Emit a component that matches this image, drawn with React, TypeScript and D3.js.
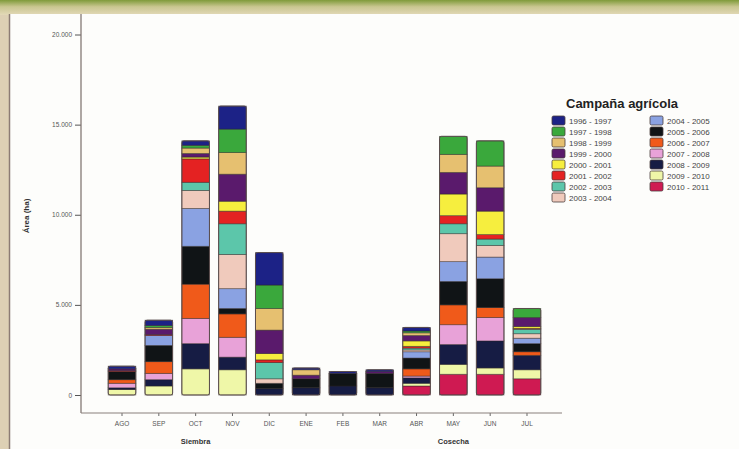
import * as React from 'react';
import * as d3 from 'd3';

const MONTHS = ['AGO', 'SEP', 'OCT', 'NOV', 'DIC', 'ENE', 'FEB', 'MAR', 'ABR', 'MAY', 'JUN', 'JUL'];

const SEASONS = [
    '1996-1997', '1997-1998', '1998-1999', '1999-2000', '2000-2001', '2001-2002', '2002-2003', '2003-2004',
    '2004-2005', '2005-2006', '2006-2007', '2007-2008', '2008-2009', '2009-2010', '2010-2011'
];

const COLORS = [
    '#1c2286', '#3aa83c', '#e6c070', '#5a1a6c', '#f6ee3e', '#e42222', '#5cc6aa', '#f0cabc',
    '#8aa2e2', '#101416', '#f05a1a', '#e8a2d8', '#161c44', '#eff7a8', '#cf1a52'
];

// hectares per month, one array per season (AGO .. JUL)
const S9697 = [150, 300, 250, 1280, 1800, 100, 100, 100, 200, 0, 0, 0];
const S9798 = [0, 100, 150, 1300, 1300, 0, 0, 0, 100, 1000, 1400, 500];
const S9899 = [0, 100, 300, 1200, 1200, 300, 0, 0, 150, 1000, 1200, 0];
const S9900 = [100, 300, 200, 1500, 1300, 200, 0, 100, 300, 1200, 1300, 500];
const S0001 = [0, 0, 100, 550, 350, 0, 0, 0, 300, 1200, 1300, 100];
const S0102 = [50, 50, 1300, 700, 150, 0, 0, 0, 100, 450, 250, 50];
const S0203 = [0, 0, 450, 1700, 900, 0, 0, 0, 100, 550, 350, 250];
const S0304 = [0, 0, 1000, 1900, 250, 0, 0, 0, 100, 1550, 650, 250];
const S0405 = [0, 550, 2100, 1100, 0, 0, 0, 0, 350, 1100, 1200, 300];
const S0506 = [450, 900, 2100, 300, 300, 500, 700, 800, 600, 1300, 1600, 450];
const S0607 = [200, 650, 1900, 1300, 0, 0, 0, 0, 400, 1100, 550, 200];
const S0708 = [250, 350, 1400, 1100, 0, 0, 0, 0, 100, 1100, 1300, 0];
const S0809 = [100, 350, 1400, 700, 350, 400, 500, 400, 300, 1100, 1500, 800];
const S0910 = [300, 500, 1450, 1400, 0, 0, 0, 0, 150, 550, 350, 500];
const S1011 = [0, 0, 0, 0, 0, 0, 0, 0, 500, 1150, 1150, 900];

const VALUES = [S9697, S9798, S9899, S9900, S0001, S0102, S0203, S0304, S0405, S0506, S0607, S0708, S0809, S0910, S1011];

const Y_TICKS = [0, 5000, 10000, 15000, 20000];
const GROUPS = [
    { label: 'Siembra', month: 'OCT' },
    { label: 'Cosecha', month: 'MAY' }
];

const FONT = '"Liberation Sans", Arial, sans-serif';

export default function App() {
    const svgRef = React.useRef<SVGSVGElement>(null);

    React.useEffect(() => {
        const svg = d3.select(svgRef.current);
        svg.selectAll('*').remove();
        const width = 739;
        const height = 449;

        /** ******** Background (photo frame) ********* */
        const defs = svg.append('defs');
        const grad = defs.append('linearGradient').attr('id', 'topGrad').attr('x1', 0).attr('y1', 0).attr('x2', 0).attr('y2', 1);
        grad.append('stop').attr('offset', '0%').attr('stop-color', '#7f9a3a');
        grad.append('stop').attr('offset', '45%').attr('stop-color', '#c9c690');
        grad.append('stop').attr('offset', '100%').attr('stop-color', '#e3d9b8');
        svg.append('rect').attr('width', width).attr('height', height).attr('fill', '#ddd0b4');
        svg.append('rect').attr('width', width).attr('height', 15).attr('fill', 'url(#topGrad)');
        svg.append('rect').attr('x', 10).attr('y', 14).attr('width', width - 10).attr('height', height - 14).attr('fill', '#fdfdfb');
        svg.append('line').attr('x1', 9.5).attr('x2', 9.5).attr('y1', 14).attr('y2', height)
            .attr('stroke', '#8c7c74').attr('stroke-width', 1.5);

        /** ******** Scales ********* */
        const x = d3.scaleBand<string>().domain(MONTHS).range([103.6, 545.4]).paddingInner(0.25).paddingOuter(0.125);
        const y = d3.scaleLinear().domain([0, 20000]).range([395, 34.5]);
        const es = d3.formatLocale({ decimal: ',', thousands: '.', grouping: [3], currency: ['', '€'] });
        const fmt = es.format(',');

        /** ******** Axes ********* */
        const g = svg.append('g');
        const yAxis = d3.axisLeft(y).tickValues(Y_TICKS).tickFormat((d) => fmt(d as number)).tickSize(6).tickPadding(3);
        const yAxisDom = g.append('g').attr('transform', 'translate(81,0)').call(yAxis);
        yAxisDom.select('.domain').remove();
        yAxisDom.selectAll('text').attr('font-size', 6.5).attr('font-family', FONT).attr('fill', '#555');
        yAxisDom.selectAll('line').attr('stroke', '#555');
        g.append('line').attr('x1', 81).attr('x2', 81).attr('y1', 14).attr('y2', 413).attr('stroke', '#7a6e6a').attr('stroke-width', 1.2);

        const xAxis = d3.axisBottom(x).tickSize(3).tickPadding(5);
        const xAxisDom = g.append('g').attr('transform', 'translate(0,413)').call(xAxis);
        xAxisDom.select('.domain').remove();
        xAxisDom.selectAll('text').attr('font-size', 6.5).attr('font-family', FONT).attr('fill', '#555');
        xAxisDom.selectAll('line').attr('stroke', '#666');
        g.append('line').attr('x1', 81).attr('x2', 562).attr('y1', 413).attr('y2', 413).attr('stroke', '#8a807c').attr('stroke-width', 1.1);

        g.selectAll('text.group')
            .data(GROUPS)
            .enter()
            .append('text')
            .attr('class', 'group')
            .attr('x', (d) => (x(d.month) as number) + x.bandwidth() / 2)
            .attr('y', 444)
            .attr('text-anchor', 'middle')
            .attr('font-size', 7.5)
            .attr('font-weight', 'bold')
            .attr('font-family', FONT)
            .attr('fill', '#333')
            .text((d) => d.label);

        g.append('text')
            .attr('transform', 'translate(29,216) rotate(-90)')
            .attr('text-anchor', 'middle')
            .attr('font-size', 8)
            .attr('font-weight', 'bold')
            .attr('font-family', FONT)
            .attr('fill', '#333')
            .text('Área (ha)');

        /** ******** Stacked bars ********* */
        const rows = MONTHS.map((m, i) => {
            const row: Record<string, number | string> = { month: m };
            SEASONS.forEach((s, j) => { row[s] = VALUES[j][i]; });
            return row;
        });
        const keys = SEASONS.slice().reverse();
        const stack = d3.stack<Record<string, number | string>>().keys(keys);
        const series = stack(rows);
        const color = d3.scaleOrdinal<string, string>().domain(SEASONS).range(COLORS);

        const bars = svg.append('g');
        bars.selectAll('g')
            .data(series)
            .enter()
            .append('g')
            .attr('fill', (d) => color(d.key))
            .selectAll('rect')
            .data((d) => d.filter((p) => p[1] - p[0] > 0))
            .enter()
            .append('rect')
            .attr('x', (d) => x(d.data.month as string) as number)
            .attr('width', x.bandwidth())
            .attr('y', (d) => y(d[1]))
            .attr('height', (d) => y(d[0]) - y(d[1]))
            .attr('stroke', '#2a2222')
            .attr('stroke-opacity', 0.55)
            .attr('stroke-width', 0.8);

        const totals = rows.map((r) => ({ month: r.month as string, total: d3.sum(SEASONS, (s) => r[s] as number) }));
        bars.selectAll('rect.outline')
            .data(totals)
            .enter()
            .append('rect')
            .attr('class', 'outline')
            .attr('x', (d) => x(d.month) as number)
            .attr('width', x.bandwidth())
            .attr('y', (d) => y(d.total))
            .attr('height', (d) => y(0) - y(d.total))
            .attr('rx', 2)
            .attr('fill', 'none')
            .attr('stroke', '#5a4c4c')
            .attr('stroke-width', 1);

        /** ******** Legend ********* */
        const legend = svg.append('g');
        legend.append('text')
            .attr('x', 566)
            .attr('y', 108)
            .attr('font-size', 13)
            .attr('font-weight', 'bold')
            .attr('font-family', FONT)
            .attr('fill', '#222')
            .text('Campaña agrícola');
        const items = legend.selectAll('g.item')
            .data(SEASONS)
            .enter()
            .append('g')
            .attr('class', 'item')
            .attr('transform', (d, i) => {
                const col = i < 8 ? 0 : 1;
                const row = i < 8 ? i : i - 8;
                return `translate(${552 + col * 98},${116 + row * 11})`;
            });
        items.append('rect')
            .attr('width', 13)
            .attr('height', 9)
            .attr('rx', 1.5)
            .attr('fill', (d) => color(d))
            .attr('stroke', '#4a3e3e')
            .attr('stroke-width', 0.8);
        items.append('text')
            .attr('x', 17)
            .attr('y', 7.5)
            .attr('font-size', 8)
            .attr('font-family', FONT)
            .attr('fill', '#444')
            .text((d) => d.replace('-', ' - '));
    }, []);

    return (
        <svg
            ref={svgRef}
            width={739}
            height={449}
            style={{ position: 'absolute', left: 0, top: 0, display: 'block' }}
        />
    );
}
